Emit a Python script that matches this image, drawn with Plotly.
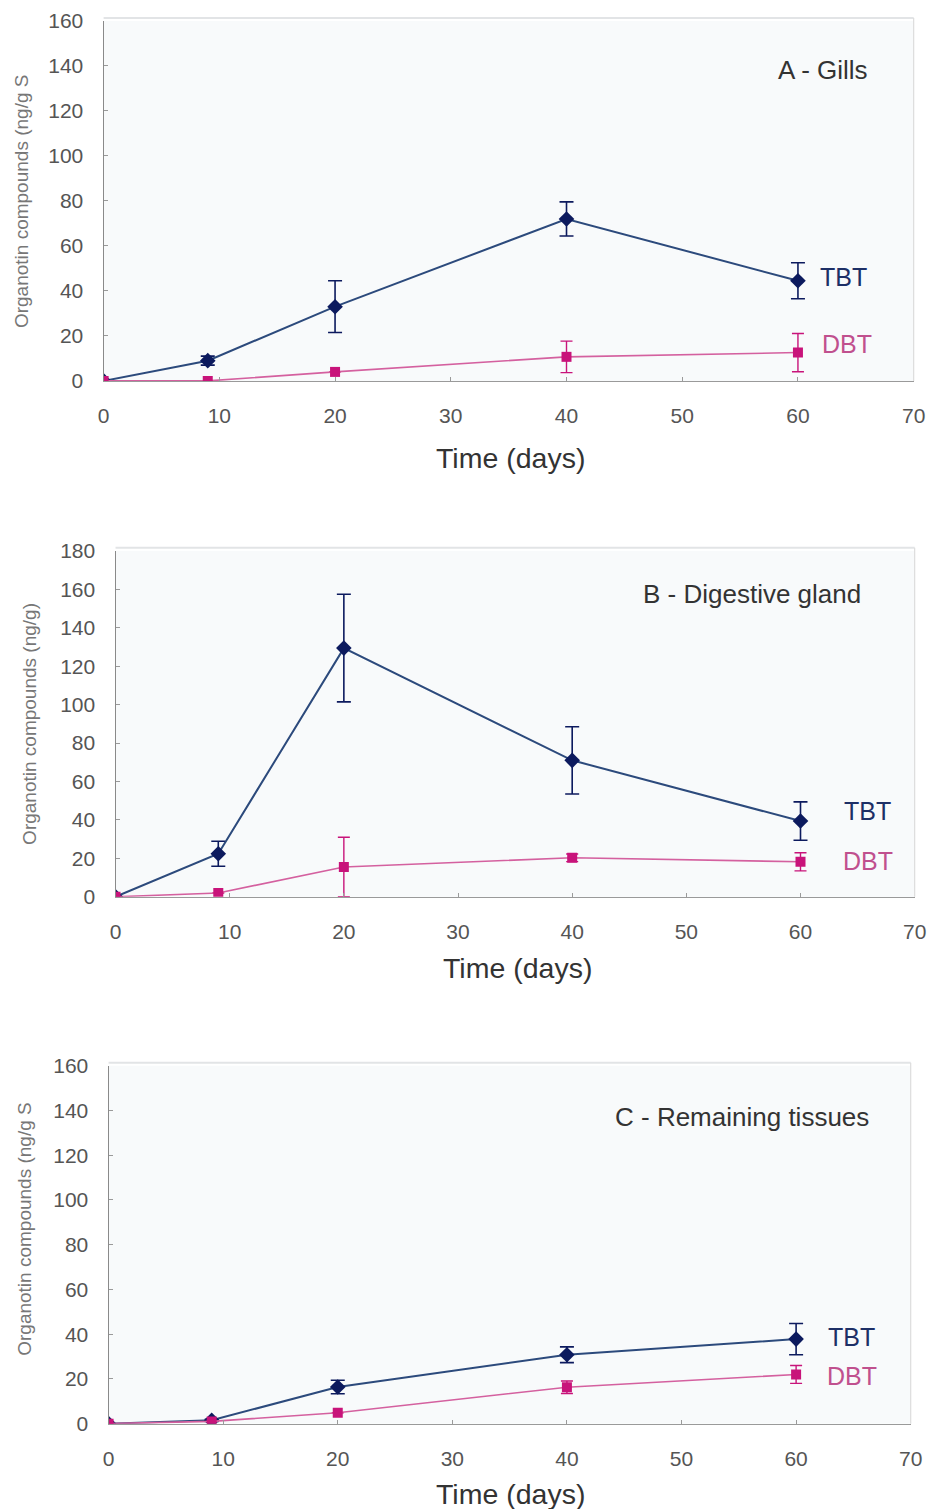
import plotly.graph_objects as go

# Sampling days
days = [0, 9, 20, 40, 60]

# A - Gills
gills_tbt = [0, 9, 33, 72, 44.5]
gills_tbt_err = [0, 2, 11.5, 7.6, 8]
gills_dbt = [0, 0, 4, 10.7, 12.6]
gills_dbt_err = [0, 0, 0, 7, 8.5]

# B - Digestive gland
dig_tbt = [0, 22.4, 129.4, 71, 39.4]
dig_tbt_err = [0, 6.5, 28, 17.5, 10]
dig_dbt = [0, 2, 15.5, 20.3, 18.2]
dig_dbt_err = [0, 0, 15.5, 2, 4.7]

# C - Remaining tissues
rem_tbt = [0, 1.5, 16.4, 30.8, 37.8]
rem_tbt_err = [0, 0.5, 3, 3.5, 7]
rem_dbt = [0, 1, 4.9, 16.3, 22]
rem_dbt_err = [0, 0, 0, 2.8, 4]

panel_titles = ["A - Gills", "B - Digestive gland", "C - Remaining tissues"]
y_titles = ["Organotin compounds (ng/g S", "Organotin compounds (ng/g)", "Organotin compounds (ng/g S"]
x_title = "Time (days)"
x_ticks = [0, 10, 20, 30, 40, 50, 60, 70]

W, H = 934, 1509
FONT = "Liberation Sans, Arial, sans-serif"
TBT_LINE = "#2c4a7c"
TBT_MARK = "#0c1a5e"
DBT_LINE = "#d4609f"
DBT_MARK = "#c8137a"
TBT_TEXT = "#1d2f66"
DBT_TEXT = "#c0508e"

# screen-space calibration of the rendered page (scale, shift)
SX, OX = 0.9867, 3.8
SY, OY = 0.985, 11.0


def px_x(p):
    return ((p - OX) / SX) / W


def px_y(p):
    return 1 - ((p - OY) / SY) / H


# screen-pixel boxes of the three plot areas: (left, right, top, bottom)
boxes = [(102, 917, 20, 380), (114, 918, 550, 896), (107, 914, 1065, 1423)]
y_ranges = [[0, 160], [0, 180], [0, 160]]
y_dticks = [20, 20, 20]

panels = [
    (gills_tbt, gills_tbt_err, gills_dbt, gills_dbt_err),
    (dig_tbt, dig_tbt_err, dig_dbt, dig_dbt_err),
    (rem_tbt, rem_tbt_err, rem_dbt, rem_dbt_err),
]

fig = go.Figure()

for i, (tbt, tbt_e, dbt, dbt_e) in enumerate(panels):
    sfx = "" if i == 0 else str(i + 1)
    fig.add_trace(go.Scatter(
        x=days, y=tbt, mode="lines+markers",
        xaxis="x" + sfx, yaxis="y" + sfx,
        line=dict(color=TBT_LINE, width=2),
        marker=dict(symbol="diamond", size=12, color=TBT_MARK),
        error_y=dict(type="data", array=tbt_e, visible=True,
                     color=TBT_MARK, thickness=1.6, width=7),
        showlegend=False,
    ))
    fig.add_trace(go.Scatter(
        x=days, y=dbt, mode="lines+markers",
        xaxis="x" + sfx, yaxis="y" + sfx,
        line=dict(color=DBT_LINE, width=1.6),
        marker=dict(symbol="square", size=10, color=DBT_MARK),
        error_y=dict(type="data", array=dbt_e, visible=True,
                     color=DBT_MARK, thickness=1.4, width=6),
        showlegend=False,
    ))

layout = dict(
    width=W, height=H,
    margin=dict(l=0, r=0, t=0, b=0),
    paper_bgcolor="white",
    plot_bgcolor="#f8fafb",
    font=dict(family=FONT),
)

shapes = []
annotations = []
for i, (l, r, t, b) in enumerate(boxes):
    sfx = "" if i == 0 else str(i + 1)
    layout["xaxis" + sfx] = dict(
        domain=[px_x(l), px_x(r)], range=[0, 70],
        anchor="y" + sfx, tickvals=x_ticks,
        showline=True, linecolor="#9a9a9a", linewidth=1.2,
        ticks="inside", ticklen=4, tickcolor="#9a9a9a",
        showgrid=False, zeroline=False,
        tickfont=dict(size=21, color="#555555", family=FONT),
        ticklabelstandoff=16, ticklabeloverflow="allow",
    )
    layout["yaxis" + sfx] = dict(
        domain=[px_y(b), px_y(t)], range=y_ranges[i],
        anchor="x" + sfx, dtick=y_dticks[i],
        showline=True, linecolor="#8a8a8a", linewidth=1.2,
        ticks="inside", ticklen=4, tickcolor="#9a9a9a",
        showgrid=False, zeroline=False,
        tickfont=dict(size=21, color="#555555", family=FONT),
        ticklabelstandoff=15, ticklabeloverflow="allow",
    )
    # faint top and right frame lines
    shapes.append(dict(type="line", xref="paper", yref="paper",
                       x0=px_x(l), x1=px_x(r), y0=px_y(t - 3), y1=px_y(t - 3),
                       line=dict(color="#e2e4e6", width=2)))
    shapes.append(dict(type="line", xref="paper", yref="paper",
                       x0=px_x(r), x1=px_x(r), y0=px_y(b), y1=px_y(t - 3),
                       line=dict(color="#dcdcdc", width=1.2)))

# panel titles
title_pos = [(826, 69), (754, 593), (744, 1116)]
for (cx, cy), txt in zip(title_pos, panel_titles):
    annotations.append(dict(text=txt, x=px_x(cx), y=px_y(cy), xref="paper", yref="paper",
                            showarrow=False, xanchor="center", yanchor="middle",
                            font=dict(size=26, color="#333333", family=FONT)))

# y-axis titles
ytitle_pos = [(20, 200), (28, 723), (23, 1228)]
for (cx, cy), txt in zip(ytitle_pos, y_titles):
    annotations.append(dict(text=txt, x=px_x(cx), y=px_y(cy), xref="paper", yref="paper",
                            showarrow=False, textangle=-90, xanchor="center", yanchor="middle",
                            font=dict(size=19, color="#777777", family=FONT)))

# x-axis titles
xtitle_pos = [(511, 457), (518, 967), (511, 1493)]
for cx, cy in xtitle_pos:
    annotations.append(dict(text=x_title, x=px_x(cx), y=px_y(cy), xref="paper", yref="paper",
                            showarrow=False, xanchor="center", yanchor="middle",
                            font=dict(size=28.5, color="#333333", family=FONT)))

# series labels next to the last point
series_pos = [((821, 276), (823, 343)), ((845, 810), (844, 860)), ((829, 1336), (828, 1375))]
for (tpos, dpos) in series_pos:
    annotations.append(dict(text="TBT", x=px_x(tpos[0]), y=px_y(tpos[1]), xref="paper", yref="paper",
                            showarrow=False, xanchor="left", yanchor="middle",
                            font=dict(size=25, color=TBT_TEXT, family=FONT)))
    annotations.append(dict(text="DBT", x=px_x(dpos[0]), y=px_y(dpos[1]), xref="paper", yref="paper",
                            showarrow=False, xanchor="left", yanchor="middle",
                            font=dict(size=25, color=DBT_TEXT, family=FONT)))

layout["shapes"] = shapes
layout["annotations"] = annotations
fig.update_layout(**layout)

# the figure fills the whole page: drop the default body margin
fig.write_html(
    "out.html",
    post_script="document.body.style.margin='0';document.body.style.overflow='hidden';",
)
